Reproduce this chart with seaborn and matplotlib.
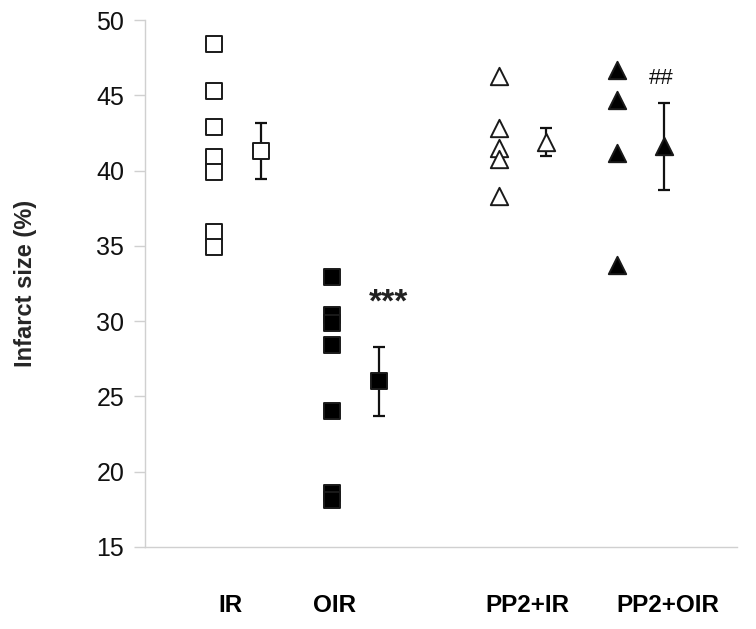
import numpy as np
import pandas as pd
import matplotlib
matplotlib.use("Agg")
import matplotlib.pyplot as plt
import seaborn as sns

# group names and individual infarct sizes (%)
groups = ["IR", "OIR", "PP2+IR", "PP2+OIR"]
ir_vals = [48.4, 45.3, 42.9, 40.9, 39.9, 35.9, 34.9]
oir_vals = [32.9, 30.4, 29.9, 28.4, 24.0, 18.6, 18.1]
pp2_ir_vals = [46.3, 42.8, 41.5, 40.8, 38.3]
pp2_oir_vals = [46.7, 44.7, 41.2, 33.7]

# group mean and SEM
means = [41.3, 26.0, 41.9, 41.6]
sems = [1.85, 2.3, 0.9, 2.9]

# significance marks
marks = ["***", "", "", "##"]
yticks = [15, 20, 25, 30, 35, 40, 45, 50]

# layout (x in arbitrary units)
point_x = [1.44, 3.90, 7.38, 9.83]
mean_offset = 0.98
label_x = [1.77, 3.94, 7.96, 10.90]
marker_shape = ["s", "s", "^", "^"]
marker_face = ["white", "black", "white", "black"]
marker_size = [11.5, 11.5, 12.5, 12.5]

sns.set_style("white")
plt.rcParams["font.family"] = ["Liberation Sans", "DejaVu Sans"]

fig = plt.figure(figsize=(7.56, 6.29), dpi=100)
ax = fig.add_axes([145 / 756, 82 / 629, 592 / 756, 527 / 629])

all_vals = [ir_vals, oir_vals, pp2_ir_vals, pp2_oir_vals]
rows = []
for g, vals, x in zip(groups, all_vals, point_x):
    for v in vals:
        rows.append({"group": g, "x": x, "size": v})
df = pd.DataFrame(rows)

for i, g in enumerate(groups):
    sub = df[df["group"] == g]
    sns.scatterplot(data=sub, x="x", y="size", ax=ax, marker=marker_shape[i],
                    s=marker_size[i] ** 2, color=marker_face[i],
                    edgecolor="#1a1a1a", linewidth=1.4, zorder=3, clip_on=False,
                    legend=False)

    mx = point_x[i] + mean_offset
    ax.errorbar(mx, means[i], yerr=sems[i], fmt="none", ecolor="#111111",
                elinewidth=1.6, capsize=4.5, capthick=1.6, zorder=2)
    ax.scatter([mx], [means[i]], marker=marker_shape[i], s=marker_size[i] ** 2,
               facecolor=marker_face[i], edgecolor="#1a1a1a", linewidth=1.4,
               zorder=4)

# significance annotations
ax.text(point_x[1] + mean_offset + 0.19, means[1] + sems[1] + 2.9, marks[0],
        ha="center", va="center", fontsize=24, fontweight="bold", color="#222222")
ax.text(point_x[3] + mean_offset - 0.06, means[3] + sems[3] + 1.6, marks[3],
        ha="center", va="center", fontsize=16, color="#111111")

ax.set_xlim(0, 592 / 48)
ax.set_ylim(15, 50)
ax.set_yticks(yticks)
ax.set_yticklabels([str(t) for t in yticks], fontsize=18, color="#111111")
ax.set_xticks(label_x)
ax.set_xticklabels(groups, fontsize=17.5, fontweight="bold", color="black")
ax.tick_params(axis="x", length=0, pad=34)
ax.tick_params(axis="y", length=8, width=1, color="#d0d0d0", pad=7, left=True)

ax.set_xlabel("")
ax.set_ylabel("Infarct size (%)", fontsize=17, fontweight="bold")
ax.yaxis.set_label_coords(-0.182, 0.5)

sns.despine(ax=ax)
for side in ["left", "bottom"]:
    ax.spines[side].set_color("#d0d0d0")
    ax.spines[side].set_linewidth(1.0)

fig.savefig("out.png", dpi=100)
